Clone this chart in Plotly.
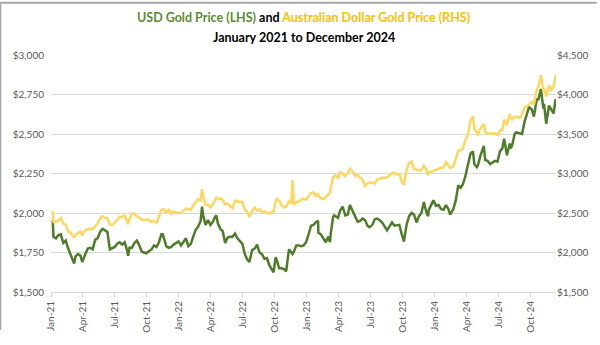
import plotly.graph_objects as go

dates = [
"2021-01-04","2021-01-06","2021-01-08","2021-01-15","2021-01-22","2021-01-29","2021-02-05","2021-02-12","2021-02-19","2021-02-26",
"2021-03-05","2021-03-08","2021-03-12","2021-03-19","2021-03-26","2021-03-31","2021-04-09","2021-04-16","2021-04-23","2021-04-30",
"2021-05-07","2021-05-14","2021-05-21","2021-05-28","2021-06-04","2021-06-11","2021-06-18","2021-06-25","2021-07-02","2021-07-09",
"2021-07-16","2021-07-23","2021-07-30","2021-08-06","2021-08-09","2021-08-13","2021-08-20","2021-08-27","2021-09-03","2021-09-10",
"2021-09-17","2021-09-24","2021-09-30","2021-10-08","2021-10-15","2021-10-22","2021-10-29","2021-11-05","2021-11-12","2021-11-16",
"2021-11-19","2021-11-26","2021-12-03","2021-12-10","2021-12-17","2021-12-24","2021-12-31",
"2022-01-07","2022-01-14","2022-01-21","2022-01-28","2022-02-04","2022-02-11","2022-02-18","2022-02-24","2022-03-04","2022-03-08",
"2022-03-11","2022-03-18","2022-03-25","2022-04-01","2022-04-08","2022-04-14","2022-04-18","2022-04-22","2022-04-29","2022-05-06",
"2022-05-13","2022-05-20","2022-05-27","2022-06-03","2022-06-10","2022-06-17","2022-06-24","2022-07-01","2022-07-08","2022-07-15",
"2022-07-21","2022-07-29","2022-08-05","2022-08-12","2022-08-19","2022-08-26","2022-09-02","2022-09-09","2022-09-16","2022-09-23",
"2022-09-28","2022-10-04","2022-10-07","2022-10-14","2022-10-21","2022-10-28","2022-11-03","2022-11-11","2022-11-18","2022-11-21",
"2022-11-25","2022-12-02","2022-12-09","2022-12-16","2022-12-23","2022-12-30",
"2023-01-06","2023-01-13","2023-01-20","2023-01-26","2023-02-02","2023-02-03","2023-02-10","2023-02-17","2023-02-24","2023-03-03",
"2023-03-08","2023-03-10","2023-03-17","2023-03-20","2023-03-24","2023-03-31","2023-04-06","2023-04-13","2023-04-21","2023-04-28",
"2023-05-04","2023-05-12","2023-05-19","2023-05-26","2023-06-02","2023-06-09","2023-06-16","2023-06-23","2023-06-29","2023-07-07",
"2023-07-14","2023-07-21","2023-07-28","2023-08-04","2023-08-11","2023-08-18","2023-08-25","2023-09-01","2023-09-08","2023-09-15",
"2023-09-22","2023-09-29","2023-10-05","2023-10-13","2023-10-20","2023-10-27","2023-11-03","2023-11-10","2023-11-17","2023-11-24",
"2023-12-01","2023-12-08","2023-12-13","2023-12-15","2023-12-22","2023-12-28",
"2024-01-05","2024-01-12","2024-01-19","2024-01-26","2024-02-02","2024-02-09","2024-02-14","2024-02-23","2024-03-01","2024-03-08",
"2024-03-15","2024-03-21","2024-03-28","2024-04-05","2024-04-12","2024-04-19","2024-04-23","2024-04-30","2024-05-03","2024-05-10",
"2024-05-20","2024-05-24","2024-05-31","2024-06-07","2024-06-14","2024-06-21","2024-06-28","2024-07-05","2024-07-12","2024-07-17",
"2024-07-25","2024-08-02","2024-08-05","2024-08-09","2024-08-16","2024-08-20","2024-08-30","2024-09-06","2024-09-13","2024-09-20",
"2024-09-26","2024-10-04","2024-10-10","2024-10-18","2024-10-23","2024-10-30","2024-11-06","2024-11-08","2024-11-14","2024-11-22",
"2024-11-29","2024-12-05","2024-12-11",
]

usd_gold = [
1943,1950,1850,1840,1860,1865,1810,1825,1775,1735,
1700,1680,1725,1740,1730,1690,1740,1775,1780,1770,
1830,1840,1880,1900,1890,1880,1770,1780,1785,1805,
1815,1800,1815,1765,1730,1780,1780,1810,1825,1795,
1755,1750,1745,1760,1770,1795,1785,1815,1865,1865,
1845,1790,1780,1785,1800,1810,1820,
1795,1820,1840,1790,1805,1850,1895,1910,1950,2040,
1985,1925,1955,1925,1945,1975,1985,1935,1900,1885,
1810,1845,1850,1850,1870,1840,1825,1805,1740,1705,
1690,1765,1775,1800,1750,1740,1710,1715,1670,1645,
1625,1720,1705,1650,1650,1645,1630,1770,1750,1740,
1755,1795,1795,1790,1795,1815,
1865,1920,1925,1940,1950,1875,1865,1835,1815,1850,
1815,1865,1975,1985,1980,1970,2015,2040,1985,1990,
2050,2010,1975,1945,1950,1965,1955,1920,1910,1925,
1960,1965,1955,1940,1915,1890,1915,1940,1920,1925,
1925,1865,1820,1930,1980,2000,1990,1940,1980,2000,
2070,2005,1980,2020,2055,2080,
2045,2050,2025,2020,2050,2025,1990,2025,2080,2175,
2160,2180,2230,2300,2375,2390,2310,2290,2300,2360,
2425,2335,2330,2310,2320,2330,2325,2390,2410,2470,
2365,2440,2410,2430,2500,2510,2505,2500,2575,2620,
2670,2655,2610,2720,2720,2785,2660,2690,2565,2680,
2650,2630,2720,
]

aud_gold = [
2525,2510,2387,2383,2409,2438,2366,2352,2261,2253,
2202,2196,2226,2245,2267,2224,2283,2290,2303,2293,
2331,2368,2429,2461,2439,2432,2354,2348,2380,2413,
2453,2446,2469,2395,2357,2425,2493,2490,2456,2442,
2414,2410,2417,2411,2389,2403,2374,2453,2541,2544,
2548,2507,2543,2490,2521,2503,2507,
2500,2524,2556,2550,2542,2595,2643,2671,2660,2802,
2719,2601,2607,2570,2611,2665,2693,2673,2687,2666,
2608,2621,2587,2559,2656,2647,2637,2643,2540,2515,
2449,2525,2569,2532,2544,2511,2515,2507,2493,2511,
2519,2646,2677,2653,2598,2570,2579,2650,2620,2920,
2604,2636,2644,2672,2679,2669,
2711,2755,2762,2721,2746,2710,2691,2675,2697,2737,
2758,2821,2952,2958,2982,2945,3016,3000,2967,3006,
3060,3023,2970,2983,2946,2924,2842,2874,2885,2882,
2874,2920,2935,2948,2942,2953,2978,3003,3009,2989,
2994,2900,2857,3059,3133,3150,3057,3050,3037,3044,
3099,3052,2977,3010,3022,3041,
3048,3064,3073,3075,3144,3106,3071,3087,3195,3285,
3293,3313,3420,3495,3671,3723,3570,3523,3480,3570,
3630,3527,3504,3511,3510,3504,3486,3546,3555,3681,
3616,3754,3702,3687,3720,3719,3700,3748,3838,3853,
3870,3904,3878,4054,4109,4245,4043,4076,3977,4117,
4052,4103,4250,
]

title_line1 = ("<span style='color:#5B8C32'>USD Gold Price (LHS)</span> and "
               "<span style='color:#FFC000'>Australian Dollar Gold Price (RHS)</span>")
title_line2 = "January 2021 to December 2024"

FONT = "Lato"
GREEN = "#4E7D2A"
YELLOW = "#FFD75E"
GRID = "#D9D9D9"
TICKC = "#595959"

fig = go.Figure()
fig.add_trace(go.Scatter(x=dates, y=aud_gold, name="AUD Gold", yaxis="y2",
                         mode="lines", line=dict(color=YELLOW, width=2.5)))
fig.add_trace(go.Scatter(x=dates, y=usd_gold, name="USD Gold", yaxis="y",
                         mode="lines", line=dict(color=GREEN, width=2.5)))

fig.update_layout(
    width=600, height=345,
    margin=dict(l=51, r=41, t=55, b=40),
    paper_bgcolor="white", plot_bgcolor="white",
    showlegend=False,
    font=dict(family=FONT, size=10, color=TICKC),
    xaxis=dict(type="date", range=["2021-01-01", "2024-12-12"],
               tick0="2021-01-01", dtick="M3", tickformat="%b-%y",
               tickangle=-90, showgrid=False, showline=True, linecolor=GRID,
               linewidth=1, ticks="outside", ticklen=4, tickcolor=GRID,
               tickfont=dict(size=10, color=TICKC), zeroline=False),
    yaxis=dict(range=[1500, 3000], dtick=250, tickprefix="$", tickformat=",d",
               showgrid=True, gridcolor=GRID, gridwidth=1, zeroline=False,
               showline=False, ticks="", ticklabelstandoff=6,
               tickfont=dict(size=10, color=TICKC)),
    yaxis2=dict(range=[1500, 4500], dtick=500, tickprefix="$", tickformat=",d",
                overlaying="y", side="right", showgrid=False, zeroline=False,
                showline=False, ticks="", tickfont=dict(size=10, color=TICKC)),
)

fig.add_annotation(text="<b>" + title_line1 + "</b>", xref="paper", yref="paper",
                   x=0.5, y=1, yshift=38, xanchor="center", yanchor="middle",
                   showarrow=False, font=dict(family=FONT, size=12.5, color="#000000"))
fig.add_annotation(text="<b>" + title_line2 + "</b>", xref="paper", yref="paper",
                   x=0.5, y=1, yshift=18, xanchor="center", yanchor="middle",
                   showarrow=False, font=dict(family=FONT, size=12.5, color="#000000"))

# chart frame (left and top edges)
fig.add_shape(type="line", xref="paper", yref="paper",
              x0=-51/508, x1=-51/508, y0=-40/250, y1=1+55/250,
              line=dict(color="#A6A6A6", width=2))
fig.add_shape(type="line", xref="paper", yref="paper",
              x0=-51/508, x1=1+41/508, y0=1+55/250, y1=1+55/250,
              line=dict(color="#A6A6A6", width=2))

fig.write_html("out.html")
